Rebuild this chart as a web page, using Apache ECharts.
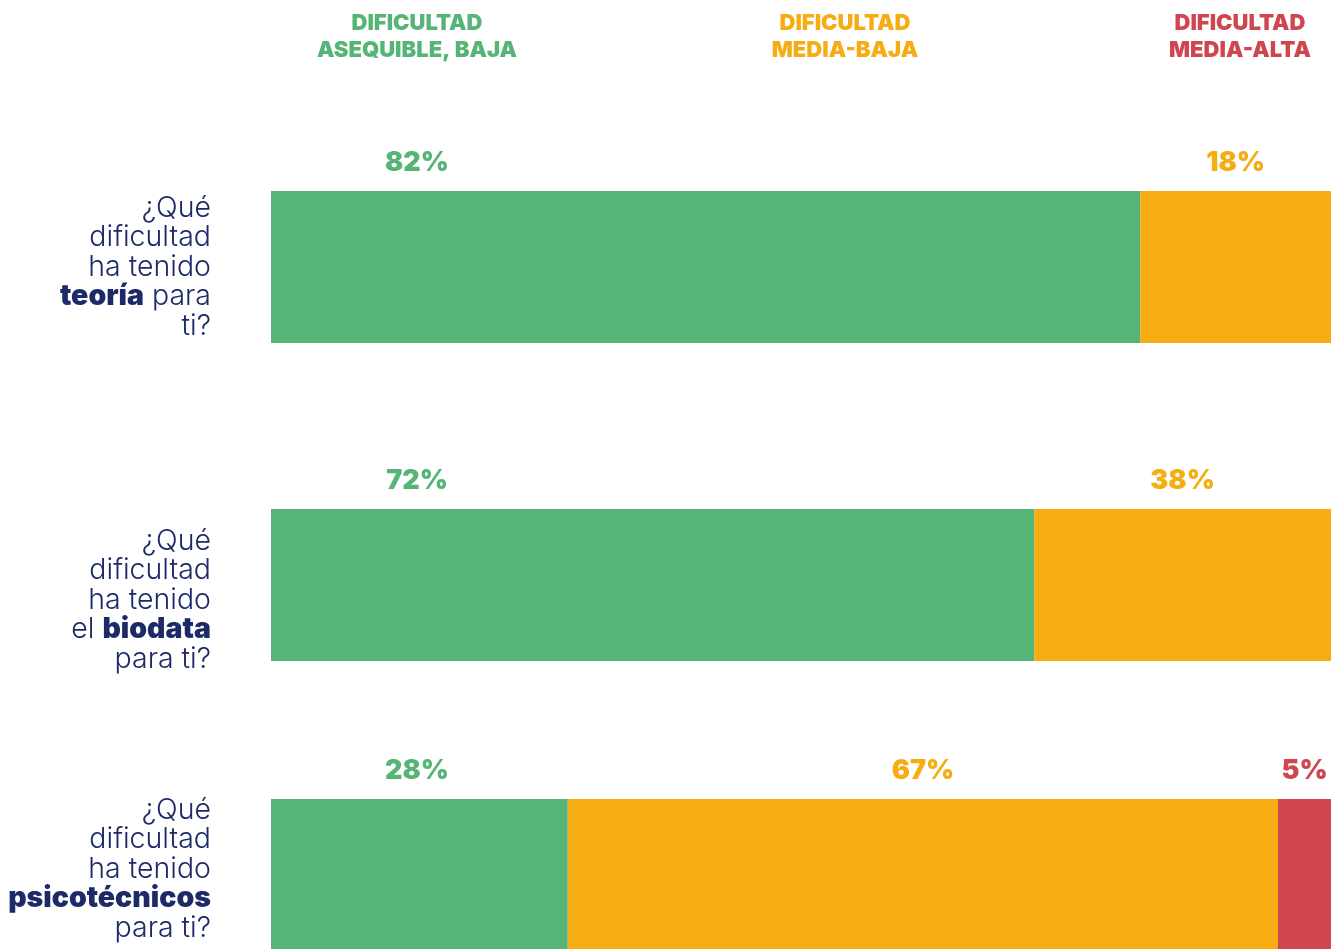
<!DOCTYPE html>
<html><head><meta charset="utf-8">
<script src="https://cdn.jsdelivr.net/npm/echarts@6/dist/echarts.min.js"></script>
<style>html,body{margin:0;padding:0;background:#fff}#c{width:1333px;height:949px}</style>
</head><body><div id="c"></div>
<script>
const questions = [
  '¿Qué\ndificultad\nha tenido\n{b|teoría} para\nti?',
  '¿Qué\ndificultad\nha tenido\nel {b|biodata}\npara ti?',
  '¿Qué\ndificultad\nha tenido\n{b|psicotécnicos}\npara ti?'
];
const seriesNames = ['DIFICULTAD\nASEQUIBLE, BAJA', 'DIFICULTAD\nMEDIA-BAJA', 'DIFICULTAD\nMEDIA-ALTA'];
const lowValues = [82, 72, 28];
const midValues = [18, 38, 67];
const highValues = [0, 0, 5];

const colors = ['#56b576', '#f5ad13', '#cf4550'];
const navy = '#1c2a68';
const FONT = 'Inter';
const gridTops = [191, 509, 799];
const labelShift = [0, 15, -5];
const headerX = [417, 845, 1240];

const chart = echarts.init(document.getElementById('c'), null, {renderer: 'canvas'});
const grids = [], xAxes = [], yAxes = [], series = [];
const valueSets = [lowValues, midValues, highValues];
questions.forEach((q, i) => {
  grids.push({left: 271, right: 2, top: gridTops[i], height: 152});
  xAxes.push({type: 'value', gridIndex: i, min: 0, max: 100, show: false});
  yAxes.push({
    type: 'category', gridIndex: i, data: [q],
    axisLine: {show: false}, axisTick: {show: false}, splitLine: {show: false},
    axisLabel: {
      margin: 60, align: 'right', color: navy, fontFamily: FONT, fontSize: 28.5,
      fontWeight: 300, lineHeight: 29.5, padding: [labelShift[i] * 2, 0, 0, 0],
      rich: {b: {fontFamily: FONT, fontSize: 28.5, fontWeight: 900, color: navy, lineHeight: 29.5}}
    }
  });
  valueSets.forEach((vals, k) => {
    series.push({
      type: 'bar', xAxisIndex: i, yAxisIndex: i, stack: 's' + i,
      name: seriesNames[k], barWidth: '100%', clip: true,
      data: [vals[i]],
      itemStyle: {color: colors[k]},
      label: {
        show: true,
        position: k === 0 ? [146, -28] : ['50%', -28],
        align: 'center', verticalAlign: 'middle',
        formatter: p => p.value > 0 ? p.value + '%' : '',
        color: colors[k], fontFamily: FONT, fontSize: 27, fontWeight: 900
      },
      emphasis: {disabled: true}
    });
  });
});

const titles = seriesNames.map((n, k) => ({
  text: n, left: headerX[k], top: 10, textAlign: 'center', padding: 0,
  textStyle: {color: colors[k], fontFamily: FONT, fontSize: 22, fontWeight: 900, lineHeight: 27}
}));

chart.setOption({
  animation: false,
  title: titles,
  grid: grids, xAxis: xAxes, yAxis: yAxes, series: series
});
</script></body></html>
